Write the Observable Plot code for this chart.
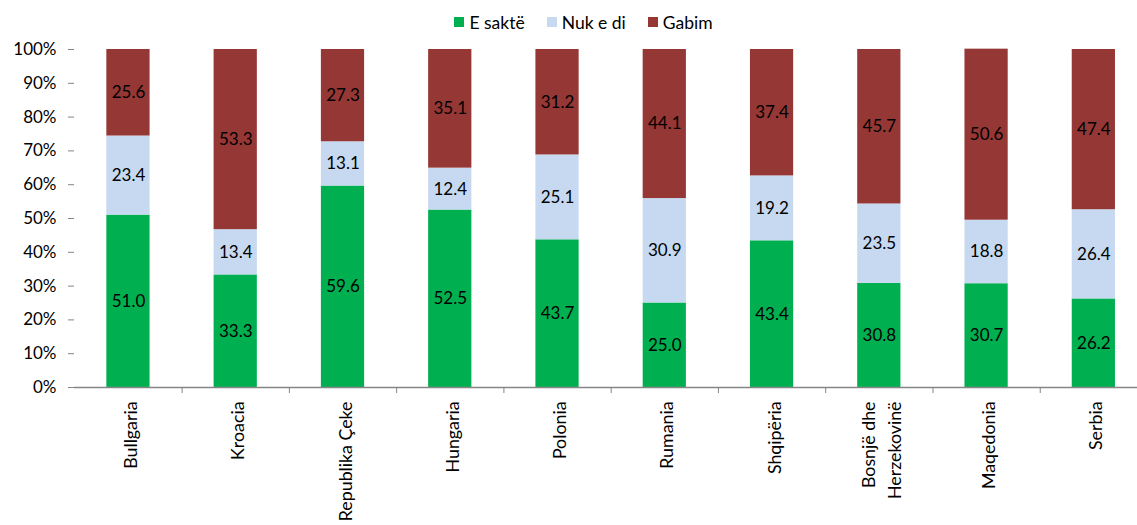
<!DOCTYPE html>
<html>
<head>
<meta charset="utf-8">
<script src="https://cdn.jsdelivr.net/npm/d3@7"></script>
<script src="https://cdn.jsdelivr.net/npm/@observablehq/plot@0.6"></script>
<style>
  html, body { margin: 0; padding: 0; background: #fff; }
  body { width: 1137px; font-family: Lato, "Open Sans", sans-serif; color: #000; }
  #legend {
    height: 30px; display: flex; justify-content: center; align-items: center;
    padding-left: 30px; box-sizing: border-box; font-size: 17.5px; padding-top: 14px;
  }
  .item { display: flex; align-items: center; margin: 0 11px; }
  .swatch { width: 10px; height: 10px; margin-right: 5px; }
</style>
</head>
<body>
<div id="legend"></div>
<div id="chart"></div>
<script>
// Answer categories and their colours
const answers = ["E saktë", "Nuk e di", "Gabim"];
const colors = ["#00B050", "#C6D9F1", "#953735"];

// Countries along the x axis
const countries = [
  "Bullgaria", "Kroacia", "Republika Çeke", "Hungaria", "Polonia",
  "Rumania", "Shqipëria", "Bosnjë dhe Herzekovinë", "Maqedonia", "Serbia"
];

// Share of each answer per country (%)
const correct = [51.0, 33.3, 59.6, 52.5, 43.7, 25.0, 43.4, 30.8, 30.7, 26.2];
const dontKnow = [23.4, 13.4, 13.1, 12.4, 25.1, 30.9, 19.2, 23.5, 18.8, 26.4];
const wrong = [25.6, 53.3, 27.3, 35.1, 31.2, 44.1, 37.4, 45.7, 50.6, 47.4];

// Y axis ticks (%)
const yTicks = [0, 10, 20, 30, 40, 50, 60, 70, 80, 90, 100];

const series = [correct, dontKnow, wrong];
const rows = countries.flatMap((country, i) =>
  answers.map((answer, j) => ({country, answer, value: series[j][i]}))
);

// Legend
const legend = document.getElementById("legend");
answers.forEach((a, i) => {
  const item = document.createElement("div");
  item.className = "item";
  const sw = document.createElement("span");
  sw.className = "swatch";
  sw.style.background = colors[i];
  const label = document.createElement("span");
  label.textContent = a;
  item.append(sw, label);
  legend.append(item);
});

const gray = "#868686";
const xRange = [74, 1147.3];
const halfStep = (xRange[1] - xRange[0]) / countries.length / 2;

const chart = Plot.plot({
  width: 1137,
  height: 495,
  marginTop: 19,
  marginBottom: 138,
  marginLeft: 74,
  marginRight: 0,
  style: {fontFamily: "Lato, 'Open Sans', sans-serif", fontSize: "17px", color: "#000", background: "#fff"},
  x: {domain: countries, range: xRange, paddingInner: 0.597, paddingOuter: 0.3015, round: false, axis: null},
  y: {domain: [0, 100], axis: null},
  color: {domain: answers, range: colors},
  marks: [
    Plot.barY(rows, {x: "country", y: "value", fill: "answer", order: answers}),
    Plot.text(rows, Plot.stackY({
      x: "country", y: "value", z: "answer", order: answers,
      text: d => d.value.toFixed(1), fill: "#000", fontSize: 17
    })),
    // y axis
    Plot.axisY({
      ticks: yTicks, tickFormat: d => d + "%", tickSize: 6, tickPadding: 12,
      stroke: gray, fill: "#000", fontSize: 17, line: true, label: null
    }),
    // x axis line and category separators
    Plot.ruleY([0], {stroke: gray, strokeWidth: 1.5}),
    Plot.axisX({
      tickSize: 6, tickFormat: () => "", dx: halfStep, stroke: gray, label: null
    }),
    // rotated country names
    Plot.text(countries, {
      x: d => d,
      text: d => d === "Bosnjë dhe Herzekovinë" ? "Bosnjë dhe\nHerzekovinë" : d,
      frameAnchor: "bottom", rotate: -90, textAnchor: "end", lineAnchor: "middle",
      lineHeight: 1.5, dy: 14, fontSize: 17.8, fill: "#000"
    })
  ]
});
document.getElementById("chart").append(chart);
</script>
</body>
</html>
